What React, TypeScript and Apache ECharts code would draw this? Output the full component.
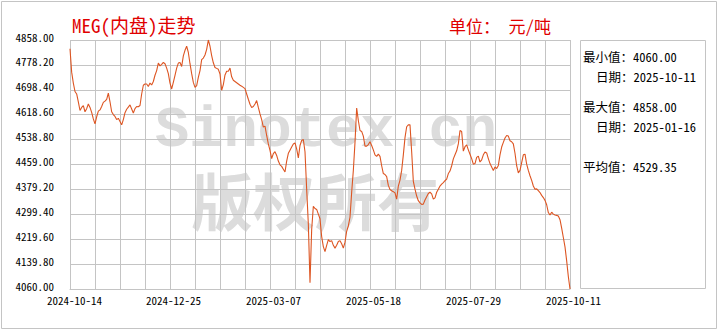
import React, { useEffect, useRef } from 'react';
import * as echarts from 'echarts';

// Tick labels on the x axis (equally spaced category ticks)
const tickDates = ['2024-10-14', '2024-12-25', '2025-03-07', '2025-05-18', '2025-07-29', '2025-10-11'];

// MEG price, first half (2024-10-14 .. ~2025-04-10)
const pricesFirst = [
  4830, 4755, 4720, 4693, 4685, 4660, 4632, 4642, 4648, 4628,
  4638, 4653, 4642, 4626, 4605, 4589, 4612, 4630, 4634, 4645,
  4658, 4662, 4668, 4688, 4660, 4628, 4619, 4613, 4603, 4607,
  4597, 4586, 4603, 4625, 4636, 4643, 4650, 4637, 4624, 4638,
  4645, 4644, 4648, 4685, 4713, 4717, 4717, 4709, 4720, 4714,
  4725, 4745, 4760, 4784, 4775, 4780, 4786, 4782, 4768, 4750,
  4720, 4701, 4722, 4745, 4768, 4784, 4786, 4773, 4807, 4825,
  4838, 4818, 4782, 4750, 4722, 4706, 4712, 4738, 4760, 4795,
  4800, 4810, 4828, 4858, 4838, 4808, 4785, 4770, 4767, 4764,
  4749, 4697, 4715, 4746, 4758, 4758, 4768, 4740, 4729, 4725,
  4721, 4717, 4713, 4710, 4706, 4702, 4685, 4668, 4652, 4642,
  4645, 4653, 4664, 4642, 4621, 4603, 4579, 4582, 4552, 4525,
  4504, 4478, 4494, 4500, 4488, 4470, 4458, 4453, 4444, 4435,
  4470, 4495, 4505, 4515, 4525, 4528, 4509, 4480, 4520, 4536,
  4539, 4500, 4380, 4268, 4080, 4250, 4325, 4318, 4315, 4300,
  4285,
];

// MEG price, second half (~2025-04-11 .. 2025-10-11)
const pricesSecond = [
  4228, 4196, 4180, 4200, 4218, 4212, 4215, 4200, 4191, 4200,
  4212, 4215, 4205, 4191, 4210, 4245, 4262, 4290, 4370, 4440,
  4530, 4640, 4600, 4568, 4565, 4550, 4518, 4518, 4523, 4532,
  4520, 4506, 4490, 4485, 4492, 4485, 4455, 4430, 4427, 4420,
  4392, 4379, 4375, 4372, 4368, 4348, 4390, 4409, 4440, 4490,
  4545, 4580, 4586, 4586, 4500, 4405, 4380, 4358, 4343, 4336,
  4331, 4332, 4345, 4356, 4366, 4370, 4365, 4348, 4352, 4370,
  4380, 4390, 4396, 4401, 4407, 4412, 4430, 4438, 4455, 4477,
  4490, 4503, 4525, 4568, 4565, 4502, 4516, 4522, 4506, 4492,
  4478, 4460, 4462, 4482, 4486, 4467, 4474, 4490, 4499, 4496,
  4478, 4462, 4451, 4440, 4451, 4446, 4456, 4490, 4515, 4530,
  4544, 4552, 4550, 4535, 4532, 4525, 4495, 4455, 4432, 4440,
  4465, 4490, 4492, 4460, 4440, 4423, 4408, 4390, 4380, 4381,
  4375, 4369, 4360, 4353, 4344, 4330, 4305, 4297, 4306, 4300,
  4297, 4296, 4294, 4282, 4255, 4225, 4195, 4150, 4100, 4060,
];

const prices = [...pricesFirst, ...pricesSecond];

const yMin = 4060;
const yMax = 4858;
const yStep = 79.8;

const titleText = 'MEG(内盘)走势';
const unitText = '单位： 元/吨';
const statTexts = ['最小值：4060.00', '日期：2025-10-11', '最大值：4858.00', '日期：2025-01-16', '平均值：4529.35'];
const watermarkTop = 'Sinotex.cn';
const watermarkBottom = '版权所有';

function buildCategories(): string[] {
  const out: string[] = [];
  const segs = tickDates.length - 1;
  const per = (prices.length - 1) / segs;
  for (let i = 0; i < prices.length; i++) {
    const seg = Math.min(Math.floor(i / per), segs - 1);
    const a = Date.parse(tickDates[seg] + 'T00:00:00Z');
    const b = Date.parse(tickDates[seg + 1] + 'T00:00:00Z');
    const days = Math.round(((i - seg * per) / per) * ((b - a) / 86400000));
    out.push(new Date(a + days * 86400000).toISOString().slice(0, 10));
  }
  return out;
}

const MONO = "'Noto Sans Mono CJK SC', 'Liberation Mono', monospace";
const CJK = "'Noto Sans Mono CJK SC', 'Noto Sans CJK SC', sans-serif";
const GRID = '#c4c4c4';
const RED = '#e00000';

export default function App() {
  const ref = useRef<HTMLDivElement>(null);

  useEffect(() => {
    if (!ref.current) return;
    const chart = echarts.init(ref.current, undefined, { renderer: 'svg' });
    const categories = buildCategories();
    const per = (prices.length - 1) / (tickDates.length - 1);
    const gridStep = per / 4;

    const statY = [56, 76, 106, 126, 166];
    const statX = [583, 596, 583, 596, 583];

    chart.setOption({
      animation: false,
      backgroundColor: '#ffffff',
      grid: { left: 70, top: 40, width: 500, height: 249, containLabel: false, outerBoundsMode: 'none' },
      xAxis: {
        type: 'category',
        data: categories,
        boundaryGap: false,
        axisLine: { show: true, lineStyle: { color: GRID, width: 1 } },
        axisTick: { show: false },
        axisLabel: {
          interval: (i: number) => i % per === 0,
          color: '#000',
          fontSize: 11,
          fontFamily: MONO,
          margin: 5,
          align: 'center',
          alignMinLabel: 'left',
          // centred labels shift by (left - right) / 2 = +3.5; the left-aligned first label starts 23px before its tick
          padding: [0, -30, 0, -23],
          formatter: (v: string) => v,
        },
        splitLine: {
          show: true,
          interval: (i: number) => i % gridStep === 0,
          lineStyle: { color: GRID, width: 1 },
        },
      },
      yAxis: {
        type: 'value',
        min: yMin,
        max: yMax,
        interval: yStep,
        axisLine: { show: false },
        axisTick: { show: false },
        splitLine: { show: true, lineStyle: { color: GRID, width: 1 } },
        axisLabel: {
          color: '#000',
          fontSize: 11,
          fontFamily: MONO,
          margin: 16,
          verticalAlign: 'bottom',
          lineHeight: 7,
          formatter: (v: number) => v.toFixed(2),
        },
      },
      series: [
        {
          type: 'line',
          data: prices,
          symbol: 'none',
          z: 5,
          lineStyle: { color: '#dd5522', width: 1.1 },
        },
      ],
      graphic: [
        {
          type: 'rect',
          z: -20,
          silent: true,
          shape: { x: 1.5, y: 1.5, width: 715, height: 327 },
          style: { fill: 'none', stroke: GRID, lineWidth: 1 },
        },
        {
          type: 'text',
          z: -10,
          silent: true,
          x: 326,
          y: 131,
          style: {
            text: watermarkTop,
            fill: '#dcdcdc',
            font: "bold 57px 'Liberation Mono', monospace",
            lineHeight: 44,
            textAlign: 'center',
            textVerticalAlign: 'middle',
          },
        },
        {
          type: 'text',
          z: -10,
          silent: true,
          x: 315,
          y: 199,
          style: {
            text: watermarkBottom,
            fill: '#dcdcdc',
            font: "bold 62px 'Noto Sans CJK SC', sans-serif",
            lineHeight: 56,
            textAlign: 'center',
            textVerticalAlign: 'middle',
          },
        },
        {
          type: 'text',
          x: 72,
          y: 24,
          style: {
            text: titleText,
            fill: RED,
            font: `19px ${CJK}`,
            textAlign: 'left',
            textVerticalAlign: 'middle',
          },
        },
        {
          type: 'text',
          x: 449,
          y: 25,
          style: {
            text: unitText,
            fill: RED,
            font: `17px ${CJK}`,
            textAlign: 'left',
            textVerticalAlign: 'middle',
          },
        },
        {
          type: 'rect',
          shape: { x: 580.5, y: 40.5, width: 125, height: 248 },
          style: { fill: 'none', stroke: GRID, lineWidth: 1 },
        },
        ...statTexts.map((t, i) => ({
          type: 'text',
          x: statX[i],
          y: statY[i],
          style: {
            text: t,
            fill: '#000',
            font: `12.5px ${CJK}`,
            textAlign: 'left',
            textVerticalAlign: 'middle',
          },
        })),
      ],
    });

    return () => {
      chart.dispose();
    };
  }, []);

  return (
    <div
      ref={ref}
      style={{ position: 'fixed', left: 0, top: 0, width: 720, height: 330, background: '#fff' }}
    />
  );
}
